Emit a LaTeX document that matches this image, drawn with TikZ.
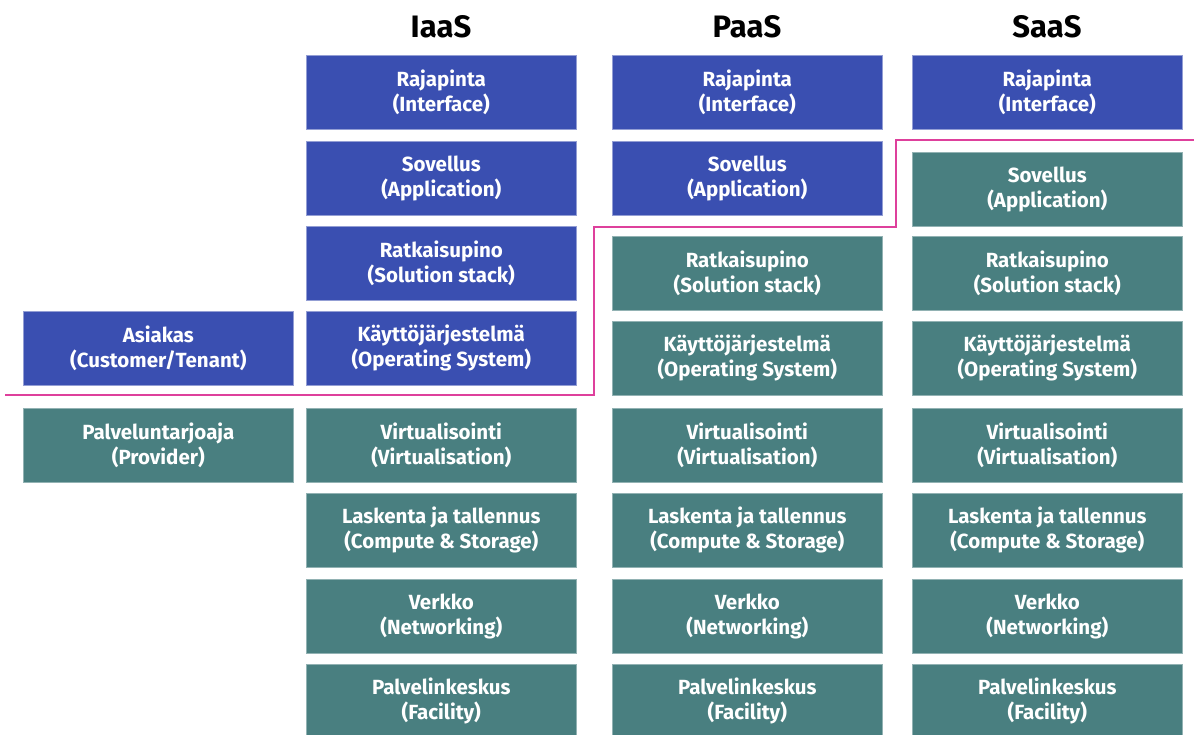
\documentclass[tikz,border=0pt]{standalone}
\usepackage{fontspec}
\setmainfont{Fira Sans}
\definecolor{custblue}{RGB}{58,79,177}
\definecolor{provteal}{RGB}{73,127,128}
\definecolor{splitpink}{RGB}{222,64,156}
\begin{document}
\begin{tikzpicture}[x=1pt,y=-1pt,
	layer/.style={minimum width=270pt,minimum height=74pt,inner sep=0pt,anchor=north west,
		align=center,text=white,font=\fontsize{20.5}{25}\selectfont\bfseries},
	cust/.style={layer,fill=custblue,draw=custblue!55!white,line width=0.6pt},
	prov/.style={layer,fill=provteal,draw=provteal!60!white,line width=0.6pt},
	head/.style={font=\fontsize{31}{36}\selectfont\bfseries}]
	\useasboundingbox (0,0) rectangle (1198,734);
	\clip (0,0) rectangle (1198,734);
	% headings
	\node[head] (iaas) at (441,27) {IaaS};
	\node[head] (paas) at (747,27) {PaaS};
	\node[head] (saas) at (1047,27) {SaaS};
	% who manages what
	\node[cust] (tenant) at (23,311) {Asiakas\\(Customer/Tenant)};
	\node[prov] (provider) at (23,408) {Palveluntarjoaja\\(Provider)};
	% IaaS
	\node[cust] (iApi) at (306,55) {Rajapinta\\(Interface)};
	\node[cust] (iApp) at (306,141) {Sovellus\\(Application)};
	\node[cust] (iStack) at (306,226) {Ratkaisupino\\(Solution stack)};
	\node[cust] (iOs) at (306,311) {Käyttöjärjestelmä\\(Operating System)};
	% PaaS
	\node[cust] (pApi) at (612,55) {Rajapinta\\(Interface)};
	\node[cust] (pApp) at (612,141) {Sovellus\\(Application)};
	\node[prov] (pStack) at (612,236) {Ratkaisupino\\(Solution stack)};
	\node[prov] (pOs) at (612,321) {Käyttöjärjestelmä\\(Operating System)};
	% SaaS
	\node[cust] (sApi) at (912,55) {Rajapinta\\(Interface)};
	\node[prov] (sApp) at (912,152) {Sovellus\\(Application)};
	\node[prov] (sStack) at (912,236) {Ratkaisupino\\(Solution stack)};
	\node[prov] (sOs) at (912,321) {Käyttöjärjestelmä\\(Operating System)};
	% provider side, same in all three
	\foreach \x/\c in {306/i,612/p,912/s} {
		\node[prov] (\c Virt) at (\x,408) {Virtualisointi\\(Virtualisation)};
		\node[prov] (\c Comp) at (\x,493) {Laskenta ja tallennus\\(Compute \& Storage)};
		\node[prov] (\c Net) at (\x,579) {Verkko\\(Networking)};
		\node[prov] (\c Fac) at (\x,664) {Palvelinkeskus\\(Facility)};
	}
	% responsibility line
	\draw[splitpink,line width=2.5pt] (5,395) -| (594,227) -| (896,140) -- (1194,140);
\end{tikzpicture}
\end{document}
